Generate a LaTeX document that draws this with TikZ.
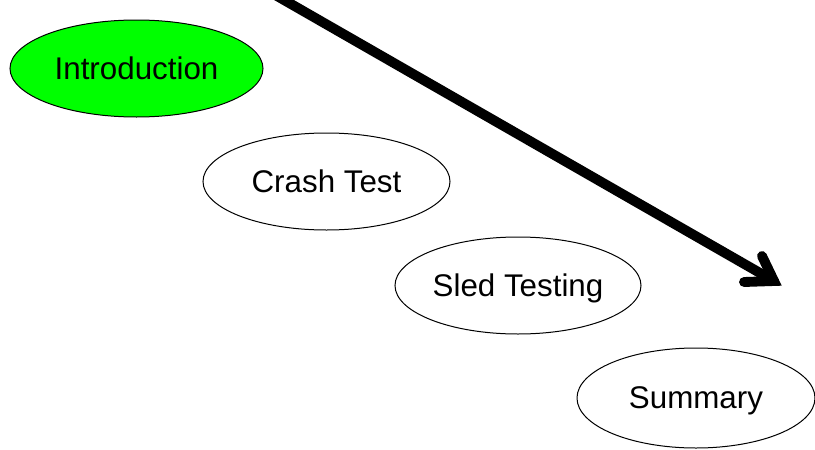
\documentclass[tikz,border=0pt]{standalone}
\usepackage{fontspec}
\setmainfont{Liberation Sans}
\usetikzlibrary{shapes.geometric}
\definecolor{introgreen}{HTML}{00FF00}
\begin{document}
\begin{tikzpicture}[x=0.75pt,y=-0.75pt,
  topic/.style={ellipse,draw=black,line width=0.75pt,fill=white,inner sep=0pt,
    font=\fontsize{23.5pt}{28pt}\selectfont,text depth=0pt},
  bigarrow/.style={line width=7.4pt,line cap=round,line join=miter,black}]
  \useasboundingbox (0,0) rectangle (815,450);
  \clip (0,0) rectangle (815,450);
  \node[topic,fill=introgreen,minimum width=189.75pt,minimum height=72.75pt] (intro) at (136.5,68.5) {Introduction};
  \node[topic,minimum width=185.25pt,minimum height=72.75pt] (crash) at (326.5,181.5) {Crash Test};
  \node[topic,minimum width=184.5pt,minimum height=72.75pt] (sled) at (518,285.5) {Sled Testing};
  \node[topic,minimum width=178.5pt,minimum height=75pt] (summary) at (696,398) {Summary};
  % thick arrow with an open, round-ended head
  \coordinate (from) at (250,-19.5);
  \coordinate (tip) at (774,281);
  \coordinate (barbA) at (762,256);
  \coordinate (barbB) at (744,282);
  \draw[bigarrow] (from) -- (tip);
  \draw[bigarrow] (barbA) -- (tip) -- (barbB);
\end{tikzpicture}
\end{document}
